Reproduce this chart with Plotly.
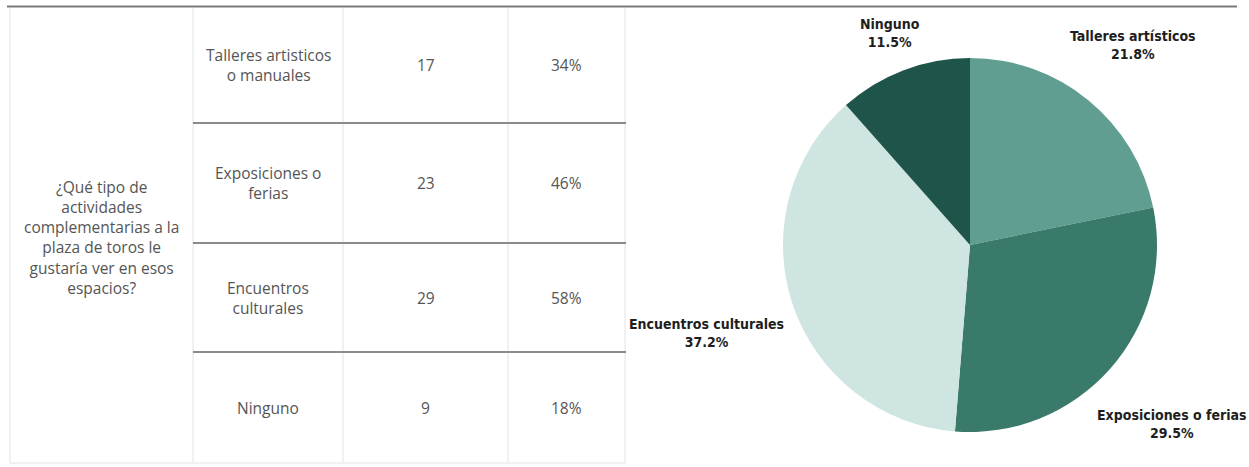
import math
import plotly.graph_objects as go

# Survey answers: activity options, number of respondents, share of the 50 respondents
options_table = ["Talleres artisticos<br>o manuales", "Exposiciones o<br>ferias",
                 "Encuentros<br>culturales", "Ninguno"]
options_pie = ["Talleres artísticos", "Exposiciones o ferias",
               "Encuentros culturales", "Ninguno"]
counts = [17, 23, 29, 9]
respondent_share = [34, 46, 58, 18]
question = ("¿Qué tipo de<br>actividades<br>complementarias a la<br>plaza de toros le"
            "<br>gustaría ver en esos<br>espacios?")
slice_colors = ["#5f9e90", "#3a7a6b", "#cfe5e1", "#1e5449"]

W, H = 1249, 467

# table geometry (pixel units on a hidden 0..W / 0..H axis pair)
col_edges = [10, 193, 343, 508, 625]
row_edges = [7, 123, 243, 352, 463]

# pie placement in pixels
PIE_CX, PIE_CY, PIE_R = 970, 245, 187

fig = go.Figure()

fig.add_trace(go.Pie(
    labels=options_pie,
    values=counts,
    sort=False,
    direction="clockwise",
    rotation=0,
    marker=dict(colors=slice_colors, line=dict(width=0)),
    textinfo="none",
    showlegend=False,
    hoverinfo="label+value+percent",
    domain=dict(x=[(PIE_CX - PIE_R) / W, (PIE_CX + PIE_R) / W],
                y=[(H - PIE_CY - PIE_R) / H, (H - PIE_CY + PIE_R) / H]),
))

shapes = []
# top rule across the whole sheet
shapes.append(dict(type="line", x0=7, x1=1237, y0=6.5, y1=6.5,
                   line=dict(color="#7a7a7a", width=2)))
# faint cell borders
for x in col_edges:
    shapes.append(dict(type="line", x0=x, x1=x, y0=8, y1=row_edges[-1],
                       line=dict(color="#ececec", width=1.5)))
shapes.append(dict(type="line", x0=col_edges[0], x1=col_edges[-1],
                   y0=row_edges[-1], y1=row_edges[-1],
                   line=dict(color="#ececec", width=1.5)))
# row separators
for y in row_edges[1:-1]:
    shapes.append(dict(type="line", x0=col_edges[1], x1=col_edges[-1] + 1, y0=y, y1=y,
                       line=dict(color="#8a8a8a", width=2)))

annotations = []
table_font = dict(family="Open Sans, Lato, sans-serif", size=15.5, color="#555555")
annotations.append(dict(x=(col_edges[0] + col_edges[1]) / 2, y=(row_edges[0] + row_edges[-1]) / 2 + 2,
                        xref="x", yref="y", text=question, showarrow=False,
                        font=table_font, align="center"))
for i, (opt, n, pct) in enumerate(zip(options_table, counts, respondent_share)):
    yc = (row_edges[i] + row_edges[i + 1]) / 2
    annotations.append(dict(x=(col_edges[1] + col_edges[2]) / 2, y=yc, xref="x", yref="y",
                            text=opt, showarrow=False, font=table_font, align="center"))
    annotations.append(dict(x=(col_edges[2] + col_edges[3]) / 2, y=yc, xref="x", yref="y",
                            text=str(n), showarrow=False, font=table_font))
    annotations.append(dict(x=(col_edges[3] + col_edges[4]) / 2, y=yc, xref="x", yref="y",
                            text=f"{pct}%", showarrow=False, font=table_font))

# outside slice labels: centred on each slice's mid-angle ray, pushed clear of the rim
label_size = 14
char_w = 0.52 * label_size
half_h = 1.4 * label_size
gap = 12
total = sum(counts)
start = 0.0
for name, n in zip(options_pie, counts):
    frac = n / total
    mid = math.radians((start + frac / 2) * 360)
    start += frac
    sx, cy = math.sin(mid), math.cos(mid)
    half_w = len(name) * char_w / 2
    dist = PIE_R + gap + half_w * abs(sx) + half_h * abs(cy)
    annotations.append(dict(
        x=PIE_CX + dist * sx, y=PIE_CY - dist * cy, xref="x", yref="y",
        text=f"<b>{name}</b><br><b>{frac * 100:.1f}%</b>", showarrow=False, align="center",
        font=dict(family="Liberation Sans Narrow, DejaVu Sans Condensed, sans-serif",
                  size=label_size, color="#1e1e1e"),
    ))

fig.update_layout(
    width=W, height=H,
    margin=dict(l=0, r=0, t=0, b=0),
    paper_bgcolor="white", plot_bgcolor="white",
    xaxis=dict(range=[0, W], visible=False, fixedrange=True),
    yaxis=dict(range=[H, 0], visible=False, fixedrange=True),
    shapes=shapes,
    annotations=annotations,
)

fig.write_html("out.html")
